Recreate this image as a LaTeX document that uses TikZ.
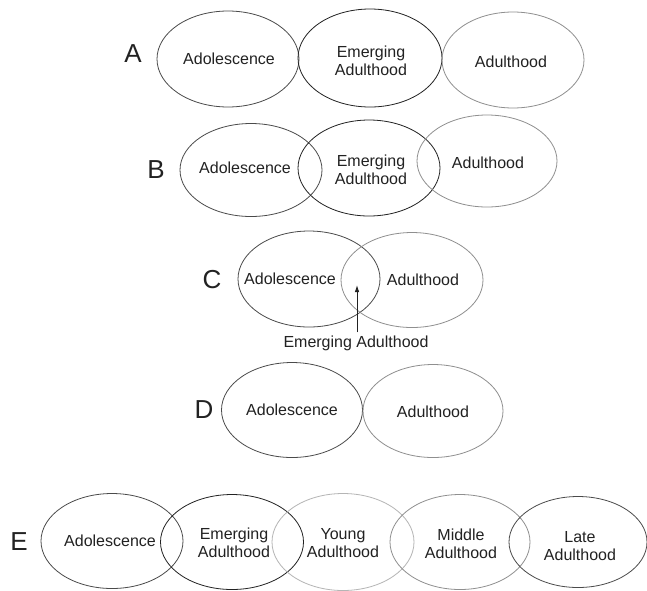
\documentclass[tikz,border=0pt]{standalone}
\usepackage{fontspec}
\setmainfont{Liberation Sans}
\usetikzlibrary{shapes.geometric,arrows.meta}
\definecolor{txt}{HTML}{222222}
\definecolor{cA}{HTML}{222222}
\definecolor{cB}{HTML}{4A4A4A}
\definecolor{cC}{HTML}{8F8F8F}
\definecolor{cD}{HTML}{B5B5B5}
\tikzset{
  ell/.style={ellipse, draw, minimum width=142pt, minimum height=96pt, inner sep=0pt, line width=0.8pt},
  lbl/.style={font=\fontsize{16}{18}\selectfont, align=center, text=txt, inner sep=0pt},
  big/.style={font=\fontsize{26}{28}\selectfont, text=txt, inner sep=0pt}
}
\begin{document}
\begin{tikzpicture}[x=1pt,y=-1pt]
\useasboundingbox[fill=white] (0,0) rectangle (647,590);
% Row A
\node[big] (lA) at (133,54) {A};
\node[ell, draw=cB] (a1) at (228,59) {};
\node[ell, draw=cA, minimum width=144pt, minimum height=98pt] (a2) at (370,58) {};
\node[ell, draw=cC] (a3) at (513,60) {};
\node[lbl] (ta1) at (229,59) {Adolescence};
\node[lbl] (ta2) at (371,61) {Emerging\\Adulthood};
\node[lbl] (ta3) at (511,62) {Adulthood};
% Row B
\node[big] (lB) at (156,170) {B};
\node[ell, draw=cB, minimum height=93pt] (b1) at (251,170) {};
\node[ell, draw=cA] (b2) at (369,168) {};
\node[ell, draw=cC, minimum width=140pt, minimum height=92pt] (b3) at (487,161) {};
\node[lbl] (tb1) at (245,168) {Adolescence};
\node[lbl] (tb2) at (371,170) {Emerging\\Adulthood};
\node[lbl] (tb3) at (488,163) {Adulthood};
% Row C
\node[big] (lC) at (212,280) {C};
\node[ell, draw=cB] (c1) at (309,279) {};
\node[ell, draw=cC, minimum height=95pt] (c2) at (412,280) {};
\node[lbl] (tc1) at (290,279) {Adolescence};
\node[lbl] (tc2) at (423,280) {Adulthood};
\node[lbl] (tc3) at (356,343) {Emerging Adulthood};
\coordinate (ctip) at (357,285);
\draw[txt, line width=0.9pt, -{Latex[length=7pt,width=4.5pt]}] (tc3.north -| ctip) ++(0,-3) -- (ctip);
% Row D
\node[big] (lD) at (204,410) {D};
\node[ell, draw=cB, minimum width=141pt, minimum height=95pt] (d1) at (292,410) {};
\node[ell, draw=cC, minimum width=140pt, minimum height=93pt] (d2) at (433,411) {};
\node[lbl] (td1) at (292,410) {Adolescence};
\node[lbl] (td2) at (433,412) {Adulthood};
% Row E
\node[big] (lE) at (19,542) {E};
\node[ell, draw=cB, minimum height=95pt] (e1) at (112,541) {};
\node[ell, draw=cA, minimum width=143pt, minimum height=95pt] (e2) at (232,542) {};
\node[ell, draw=cD, minimum height=97pt] (e3) at (343,542) {};
\node[ell, draw=cC, minimum width=140pt, minimum height=95pt] (e4) at (460,542) {};
\node[ell, draw=cB, minimum width=138pt, minimum height=91pt] (e5) at (578,542) {};
\node[lbl] (te1) at (110,541) {Adolescence};
\node[lbl] (te2) at (234,543) {Emerging\\Adulthood};
\node[lbl] (te3) at (343,543) {Young\\Adulthood};
\node[lbl] (te4) at (461,544) {Middle\\Adulthood};
\node[lbl] (te5) at (580,546) {Late\\Adulthood};
\end{tikzpicture}
\end{document}
